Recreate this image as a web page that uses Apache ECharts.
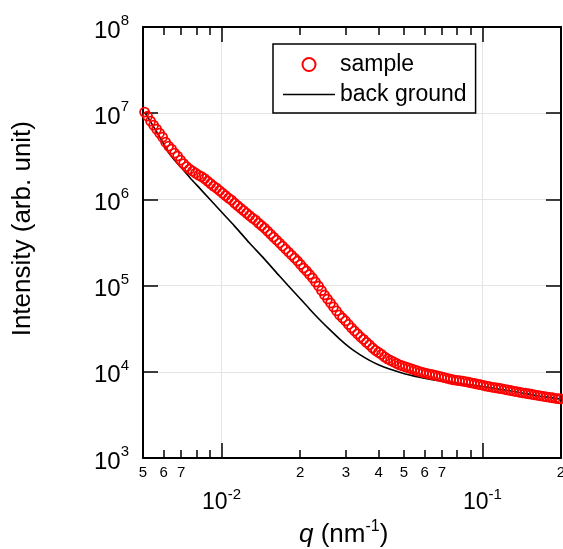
<!DOCTYPE html>
<html>
<head>
<meta charset="utf-8">
<script src="https://cdn.jsdelivr.net/npm/echarts@6/dist/echarts.min.js"></script>
<style>
html,body{margin:0;padding:0;background:#fff;}
#chart{width:563px;height:549px;}
</style>
</head>
<body>
<div id="chart"></div>
<script>
// ---- data ----
const qSample = [
  0.005071,0.005207,0.005347,0.005490,0.005637,0.005789,0.005944,0.006103,0.006267,0.006435,
  0.006608,0.006785,0.006967,0.007154,0.007346,0.007543,0.007745,0.007953,0.008166,0.008385,
  0.008610,0.008841,0.009078,0.009321,0.009571,0.009828,0.010091,0.010362,0.010640,0.010925,
  0.011218,0.011519,0.011828,0.012145,0.012471,0.012805,0.013149,0.013501,0.013863,0.014235,
  0.014617,0.015009,0.015411,0.015825,0.016249,0.016685,0.017132,0.017592,0.018063,0.018548,
  0.019045,0.019556,0.020080,0.020619,0.021172,0.021739,0.022322,0.022921,0.023536,0.024167,
  0.024815,0.025480,0.026164,0.026865,0.027586,0.028325,0.029085,0.029865,0.030666,0.031488,
  0.032332,0.033199,0.034090,0.035004,0.035942,0.036906,0.037896,0.038912,0.039956,0.041027,
  0.042127,0.043257,0.044417,0.045608,0.046831,0.048087,0.049376,0.050700,0.052060,0.053456,
  0.054889,0.056361,0.057872,0.059424,0.061018,0.062654,0.064334,0.066059,0.067831,0.069650,
  0.071517,0.073435,0.075404,0.077426,0.079503,0.081634,0.083823,0.086071,0.088379,0.090749,
  0.093183,0.095681,0.098247,0.10088,0.10359,0.10637,0.10922,0.11215,0.11516,0.11824,
  0.12142,0.12467,0.12802,0.13145,0.13497,0.13859,0.14231,0.14612,0.15004,0.15407,
  0.15820,0.16244,0.16680,0.17127,0.17586,0.18058,0.18542,0.19039,0.19550,0.1991];
const iSample = [
  1.03e7,9.23e6,8.08e6,7.26e6,6.53e6,5.87e6,5.27e6,4.61e6,4.15e6,3.83e6,
  3.44e6,3.18e6,2.85e6,2.60e6,2.40e6,2.245e6,2.128e6,2.017e6,1.912e6,1.837e6,
  1.742e6,1.630e6,1.525e6,1.426e6,1.352e6,1.265e6,1.183e6,1.107e6,1.035e6,9.81e5,
  9.06e5,8.475e5,7.93e5,7.42e5,6.94e5,6.49e5,6.07e5,5.755e5,5.313e5,4.97e5,
  4.65e5,4.292e5,3.962e5,3.657e5,3.376e5,3.116e5,2.876e5,2.655e5,2.451e5,2.262e5,
  2.088e5,1.928e5,1.756e5,1.600e5,1.476e5,1.345e5,1.225e5,1.101e5,9.89e4,8.77e4,
  7.78e4,6.99e4,6.285e4,5.65e4,5.08e4,4.563e4,4.21e4,3.89e4,3.542e4,3.227e4,
  2.978e4,2.749e4,2.537e4,2.374e4,2.191e4,2.050e4,1.892e4,1.770e4,1.678e4,1.591e4,
  1.488e4,1.411e4,1.356e4,1.302e4,1.251e4,1.202e4,1.171e4,1.140e4,1.110e4,1.080e4,
  1.052e4,1.024e4,9.97e3,9.79e3,9.58e3,9.41e3,9.26e3,9.08e3,8.89e3,8.73e3,
  8.54e3,8.39e3,8.23e3,8.06e3,7.97e3,7.89e3,7.78e3,7.68e3,7.56e3,7.44e3,
  7.32e3,7.20e3,7.09e3,6.96e3,6.83e3,6.72e3,6.61e3,6.53e3,6.44e3,6.37e3,
  6.27e3,6.17e3,6.07e3,5.98e3,5.88e3,5.79e3,5.71e3,5.64e3,5.56e3,5.49e3,
  5.41e3,5.34e3,5.27e3,5.20e3,5.13e3,5.06e3,5.00e3,4.93e3,4.88e3,4.85e3];

const qBack = [0.00507,0.00530,0.00559,0.00589,0.00621,0.00661,0.00703,0.00754,0.00824,0.00900,0.01000,0.01122,0.01280,0.01461,0.01668,0.01806,
  0.01991,0.02173,0.02373,0.02593,0.02831,0.03092,0.03378,0.03691,0.04032,0.04403,0.04809,0.05253,0.05738,0.06267,0.06844,0.07476,
  0.08533,0.09742,0.1162,0.1387,0.1654,0.2];
const iBack = [1.03e7,8.30e6,6.35e6,4.87e6,3.63e6,2.85e6,2.31e6,1.81e6,1.35e6,1.01e6,7.13e5,4.90e5,3.12e5,2.03e5,1.29e5,9.89e4,
  7.18e4,5.36e4,4.05e4,3.10e4,2.41e4,1.92e4,1.59e4,1.356e4,1.19e4,1.075e4,9.87e3,9.18e3,8.64e3,8.21e3,7.87e3,7.58e3,
  7.15e3,6.85e3,6.30e3,5.75e3,5.25e3,4.82e3];

const qMin = 0.005, qMax = 0.2;
const iMin = 1e3, iMax = 1e8;
const minorTickValues = [0.006,0.007,0.008,0.009,0.02,0.03,0.04,0.05,0.06,0.07,0.08,0.09];
const minorLabelValues = [0.005,0.006,0.007,0.02,0.03,0.04,0.05,0.06,0.07,0.2];
const majorTickValues = [0.01,0.1];

// ---- chart ----
const FONT = '"Liberation Sans", Arial, sans-serif';
const lg = v => Math.log10(v);
const chart = echarts.init(document.getElementById('chart'), null, {renderer: 'canvas'});

const blackLine = {show: true, lineStyle: {color: '#000', width: 2}};
const noLine = {show: false};

function digitLabel(v) {
  const val = Math.pow(10, v);
  const e = Math.floor(Math.log10(val) + 1e-9);
  return String(Math.round(val / Math.pow(10, e)));
}

const option = {
  animation: false,
  backgroundColor: '#fff',
  textStyle: {fontFamily: FONT},
  grid: {left: 143, top: 27, width: 418, height: 431, containLabel: false, outerBoundsMode: 'none'},
  legend: {
    data: [
      {name: 'sample', icon: 'circle', itemStyle: {color: 'rgba(0,0,0,0)', borderColor: '#ff0000', borderWidth: 2}},
      {name: 'back ground', icon: 'path://M0,0L52,0L52,1.6L0,1.6Z', itemStyle: {color: '#000', borderWidth: 0}}
    ],
    orient: 'vertical',
    left: 273, top: 44,
    itemWidth: 52, itemHeight: 13, itemGap: 7, itemTextGap: 14,
    padding: [9, 9, 7, 10],
    borderColor: '#000', borderWidth: 1.5, backgroundColor: '#fff',
    textStyle: {fontSize: 23, fontFamily: FONT, color: '#000', lineHeight: 22},
    selectedMode: false
  },
  xAxis: [
    { // data axis (log)
      type: 'log', logBase: 10, min: qMin, max: qMax, position: 'bottom',
      axisLine: blackLine, axisTick: {show: false}, axisLabel: {show: false},
      splitLine: {show: true, lineStyle: {color: '#e4e4e4', width: 1}}
    },
    { // minor ticks + labels bottom
      type: 'value', min: lg(qMin), max: lg(qMax), position: 'bottom',
      axisLine: noLine,
      axisTick: {show: true, inside: true, length: 8, lineStyle: {color: '#000', width: 1.5}, customValues: minorTickValues.map(lg)},
      axisLabel: {show: true, customValues: minorLabelValues.map(lg), formatter: digitLabel, fontSize: 15, color: '#000', margin: 7, fontFamily: FONT},
      splitLine: {show: false}
    },
    { // major ticks + labels bottom
      type: 'value', min: lg(qMin), max: lg(qMax), position: 'bottom',
      axisLine: noLine,
      axisTick: {show: true, inside: true, length: 15, lineStyle: {color: '#000', width: 1.5}, customValues: majorTickValues.map(lg)},
      axisLabel: {
        show: true, customValues: majorTickValues.map(lg), margin: 29, color: '#000',
        formatter: v => '{b|10}{s|' + Math.round(v) + '}',
        rich: {b: {fontSize: 23, fontFamily: FONT, color: '#000'}, s: {fontSize: 15, fontFamily: FONT, color: '#000', padding: [0, 0, 16, 0]}}
      },
      splitLine: {show: false}
    },
    { // minor ticks top
      type: 'value', min: lg(qMin), max: lg(qMax), position: 'top',
      axisLine: blackLine,
      axisTick: {show: true, inside: true, length: 8, lineStyle: {color: '#000', width: 1.5}, customValues: minorTickValues.map(lg)},
      axisLabel: {show: false}, splitLine: {show: false}
    },
    { // major ticks top
      type: 'value', min: lg(qMin), max: lg(qMax), position: 'top',
      axisLine: noLine,
      axisTick: {show: true, inside: true, length: 15, lineStyle: {color: '#000', width: 1.5}, customValues: majorTickValues.map(lg)},
      axisLabel: {show: false}, splitLine: {show: false}
    }
  ],
  yAxis: [
    {
      type: 'log', logBase: 10, min: iMin, max: iMax, position: 'left',
      axisLine: blackLine,
      axisTick: {show: true, inside: true, length: 15, lineStyle: {color: '#000', width: 1.5}},
      axisLabel: {
        show: true, margin: 14, color: '#000',
        formatter: v => '{b|10}{s|' + Math.round(Math.log10(v)) + '}',
        rich: {
          b: {fontSize: 24, fontFamily: FONT, color: '#000', padding: [8, 0, 0, 0]},
          s: {fontSize: 15, fontFamily: FONT, color: '#000', padding: [0, 0, 12, 0]}
        }
      },
      splitLine: {show: true, lineStyle: {color: '#e4e4e4', width: 1}}
    },
    {
      type: 'log', logBase: 10, min: iMin, max: iMax, position: 'right',
      axisLine: blackLine,
      axisTick: {show: true, inside: true, length: 15, lineStyle: {color: '#000', width: 1.5}},
      axisLabel: {show: false}, splitLine: {show: false}
    }
  ],
  graphic: [
    {
      type: 'text', left: 10, top: 121, rotation: Math.PI / 2,
      style: {text: 'Intensity (arb. unit)', fontSize: 26, fontFamily: FONT, fill: '#000'}
    },
    {
      type: 'text', left: 299, top: 519,
      style: {
        text: '{i|q} {r|(nm}{s|-1}{r|)}',
        rich: {
          i: {fontSize: 26, fontStyle: 'italic', fontFamily: FONT, color: '#000'},
          r: {fontSize: 26, fontFamily: FONT, color: '#000'},
          s: {fontSize: 16, fontFamily: FONT, color: '#000', padding: [0, 0, 16, 0]}
        },
        fontSize: 26
      }
    }
  ],
  series: [
    {
      name: 'back ground', type: 'line', xAxisIndex: 0, yAxisIndex: 0,
      data: qBack.map((q, k) => [q, iBack[k]]),
      showSymbol: false, symbol: 'none', smooth: 0.3,
      lineStyle: {color: '#000', width: 1.6}, itemStyle: {color: '#000'}, z: 2
    },
    {
      name: 'sample', type: 'scatter', xAxisIndex: 0, yAxisIndex: 0,
      data: qSample.map((q, k) => [q, iSample[k]]),
      symbol: 'circle', symbolSize: 9, clip: false,
      itemStyle: {color: 'rgba(0,0,0,0)', borderColor: '#ff0000', borderWidth: 1.8, opacity: 1}, z: 3
    }
  ]
};
chart.setOption(option);
</script>
</body>
</html>
